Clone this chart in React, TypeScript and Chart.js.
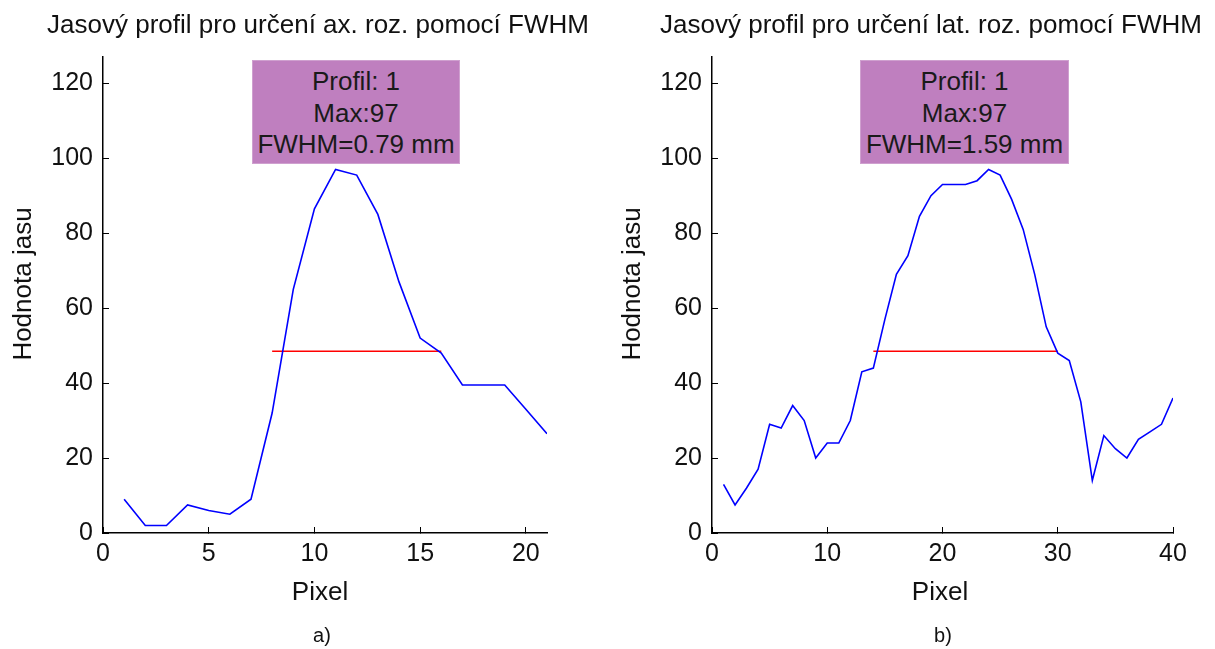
import React, { useEffect, useRef } from "react";
import { Chart, registerables } from "chart.js";

Chart.register(...registerables);

// ---- data ----
const axPixels = [1, 2, 3, 4, 5, 6, 7, 8, 9, 10, 11, 12, 13, 14, 15, 16, 17, 18, 19, 20, 21];
const axValues = [9, 2, 2, 7.5, 6, 5, 9, 32, 65, 86.5, 97, 95.5, 85, 67, 52, 48, 39.5, 39.5, 39.5, 33, 26.5];
const axHalfMaxX = [8, 16];

const latPixels = [
  1, 2, 3, 4, 5, 6, 7, 8, 9, 10, 11, 12, 13, 14, 15, 16, 17, 18, 19, 20,
  21, 22, 23, 24, 25, 26, 27, 28, 29, 30, 31, 32, 33, 34, 35, 36, 37, 38, 39, 40,
];
const latValues = [
  13, 7.5, 12, 17, 29, 28, 34, 30, 20, 24, 24, 30, 43, 44, 57, 69, 74, 84.5, 90, 93,
  93, 93, 94, 97, 95.5, 89, 81, 69, 55, 48, 46, 35, 14, 26, 22.5, 20, 25, 27, 29, 36,
];
const latHalfMaxX = [14, 30];

const halfMax = 48.5;
const axXTicks = [0, 5, 10, 15, 20];
const latXTicks = [0, 10, 20, 30, 40];
const yTicks = [0, 20, 40, 60, 80, 100, 120];
const axXMax = 21;
const latXMax = 40;
const yMax = 127;

const FONT = "'Liberation Sans', Arial, Helvetica, sans-serif";

function buildConfig(
  px: number[],
  vals: number[],
  halfX: number[],
  xMax: number,
  xTicks: number[],
  plotLeft: number,
  padRight: number
): any {
  const gridOpts = {
    drawOnChartArea: false,
    drawTicks: true,
    tickLength: -6,
    color: "#000",
    lineWidth: 1,
  };
  const borderOpts = { display: true, color: "#000", width: 1.5 };
  const tickFont = { family: FONT, size: 25 };
  return {
    type: "line",
    data: {
      datasets: [
        {
          data: px.map((x, i) => ({ x, y: vals[i] })),
          borderColor: "#0000ff",
          borderWidth: 1.6,
          pointRadius: 0,
          tension: 0,
          fill: false,
        },
        {
          data: halfX.map((x) => ({ x, y: halfMax })),
          borderColor: "#ff0000",
          borderWidth: 1.6,
          pointRadius: 0,
          fill: false,
        },
      ],
    },
    options: {
      animation: false,
      responsive: false,
      events: [],
      layout: { padding: { left: 0, right: padRight, top: 57, bottom: 0 } },
      plugins: {
        legend: { display: false },
        tooltip: { enabled: false },
        title: { display: false },
      },
      scales: {
        x: {
          type: "linear",
          min: 0,
          max: xMax,
          afterBuildTicks: (s: any) => {
            s.ticks = xTicks.map((v) => ({ value: v }));
          },
          afterFit: (s: any) => {
            s.height = 116;
          },
          grid: gridOpts,
          border: borderOpts,
          ticks: {
            padding: 12,
            color: "#111",
            font: tickFont,
            maxRotation: 0,
            autoSkip: false,
          },
        },
        y: {
          type: "linear",
          min: 0,
          max: yMax,
          afterBuildTicks: (s: any) => {
            s.ticks = yTicks.map((v) => ({ value: v }));
          },
          afterFit: (s: any) => {
            s.width = plotLeft;
          },
          grid: gridOpts,
          border: borderOpts,
          ticks: {
            padding: 16,
            color: "#111",
            font: tickFont,
            autoSkip: false,
          },
        },
      },
    },
  };
}

function ChartCanvas(props: {
  left: number;
  width: number;
  config: any;
}) {
  const ref = useRef<HTMLCanvasElement | null>(null);
  useEffect(() => {
    if (!ref.current) return;
    const chart = new Chart(ref.current, props.config);
    return () => chart.destroy();
  }, []);
  return (
    <canvas
      ref={ref}
      width={props.width}
      height={649}
      style={{ position: "absolute", left: props.left, top: 0, width: props.width, height: 649 }}
    />
  );
}

const textBase: React.CSSProperties = {
  position: "absolute",
  fontFamily: FONT,
  color: "#111",
  whiteSpace: "nowrap",
  lineHeight: "30px",
};

function Centered(props: { cx: number; top: number; size: number; text: string }) {
  return (
    <div
      style={{
        ...textBase,
        left: props.cx - 400,
        width: 800,
        top: props.top,
        textAlign: "center",
        fontSize: props.size,
      }}
    >
      {props.text}
    </div>
  );
}

function YLabel(props: { cx: number; cy: number }) {
  return (
    <div
      style={{
        ...textBase,
        left: props.cx - 150,
        top: props.cy - 15,
        width: 300,
        height: 30,
        textAlign: "center",
        fontSize: 26,
        transform: "rotate(-90deg)",
      }}
    >
      Hodnota jasu
    </div>
  );
}

function InfoBox(props: { left: number; width: number; lines: string[] }) {
  return (
    <div
      style={{
        position: "absolute",
        left: props.left,
        top: 60,
        width: props.width,
        height: 104,
        background: "#bf7fbf",
        boxSizing: "border-box",
        border: "1px solid #cfa0cf",
        fontFamily: FONT,
        fontSize: 26,
        color: "#1a1a1a",
        textAlign: "center",
        lineHeight: "31.5px",
        paddingTop: 5,
      }}
    >
      {props.lines.map((l, i) => (
        <div key={i}>{l}</div>
      ))}
    </div>
  );
}

export default function App() {
  const cfgA = buildConfig(axPixels, axValues, axHalfMaxX, axXMax, axXTicks, 103, 60);
  const cfgB = buildConfig(latPixels, latValues, latHalfMaxX, latXMax, latXTicks, 105, 42);
  return (
    <div
      style={{
        position: "fixed",
        left: 0,
        top: 0,
        width: 1215,
        height: 649,
        background: "#fff",
        overflow: "hidden",
      }}
    >
      <ChartCanvas left={0} width={607} config={cfgA} />
      <ChartCanvas left={607} width={608} config={cfgB} />

      <Centered cx={318} top={9} size={26} text="Jasový profil pro určení ax. roz. pomocí FWHM" />
      <Centered cx={931} top={9} size={26} text="Jasový profil pro určení lat. roz. pomocí FWHM" />

      <YLabel cx={22} cy={284} />
      <YLabel cx={631} cy={284} />

      <Centered cx={320} top={576} size={26} text="Pixel" />
      <Centered cx={940} top={576} size={26} text="Pixel" />

      <Centered cx={322} top={620} size={20} text="a)" />
      <Centered cx={943} top={620} size={20} text="b)" />

      <InfoBox left={252} width={208} lines={["Profil: 1", "Max:97", "FWHM=0.79 mm"]} />
      <InfoBox left={860} width={209} lines={["Profil: 1", "Max:97", "FWHM=1.59 mm"]} />
    </div>
  );
}
